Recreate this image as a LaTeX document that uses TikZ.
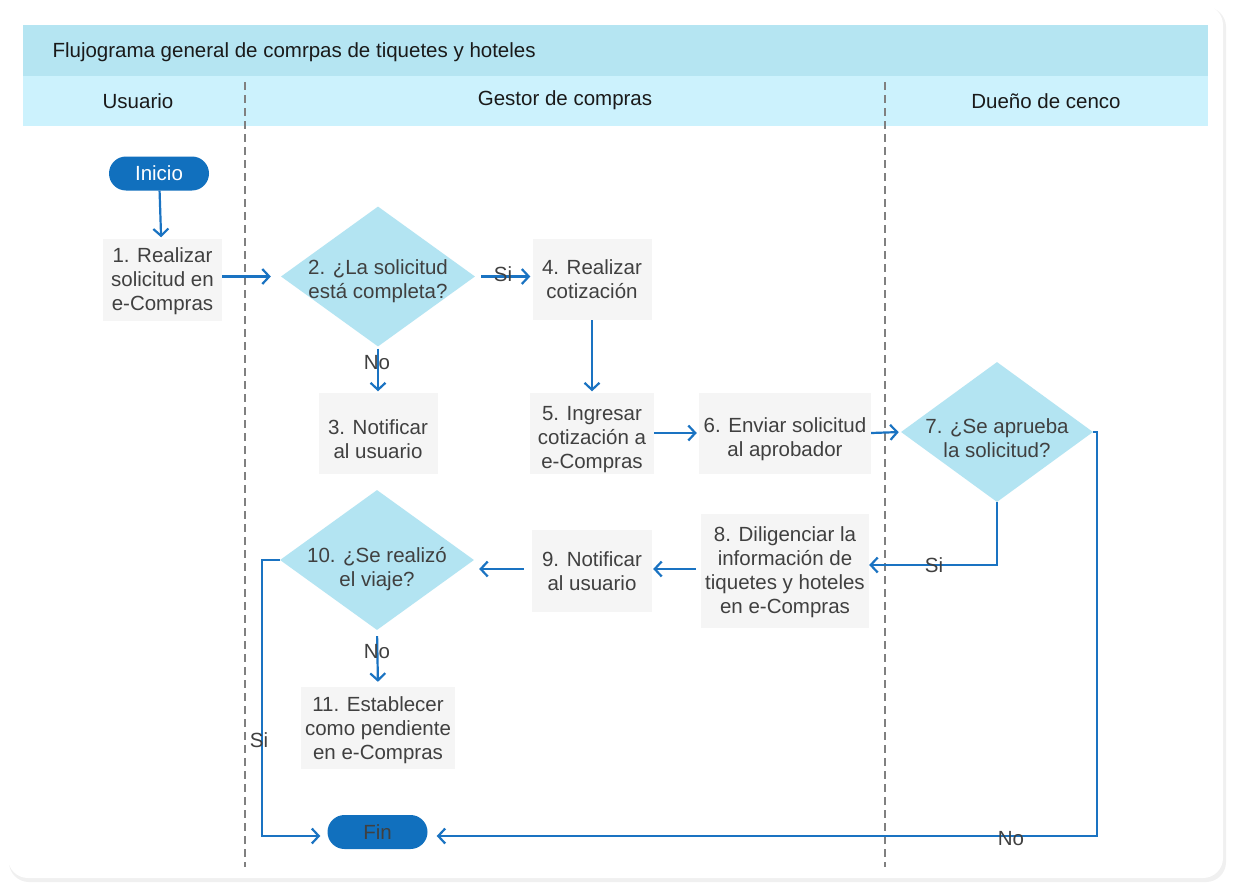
\documentclass[tikz,border=0pt]{standalone}
\usepackage{fontspec}
\setmainfont{Liberation Sans}
\usetikzlibrary{arrows.meta,shapes.geometric,calc}
\definecolor{titlebg}{HTML}{B5E5F2}
\definecolor{lanebg}{HTML}{CCF2FD}
\definecolor{diabg}{HTML}{B3E4F2}
\definecolor{pillc}{HTML}{1170BE}
\definecolor{arrowc}{HTML}{1A73C2}
\definecolor{boxbg}{HTML}{F5F5F5}
\definecolor{txtc}{HTML}{404040}
\definecolor{headc}{HTML}{1A1A1A}
\definecolor{dashc}{HTML}{808080}
\begin{document}
\begin{tikzpicture}[x=1pt,y=-1pt,
  every node/.style={font=\fontsize{20.5}{24}\selectfont, text=txtc},
  procbox/.style={rectangle, fill=boxbg, inner sep=0pt},
  dia/.style={diamond, fill=diabg, inner sep=0pt},
  inner/.style={align=center},
  pillnode/.style={rectangle, rounded corners=17pt, fill=pillc, inner sep=0pt,
    minimum width=100pt, minimum height=34pt},
  headtxt/.style={text=headc},
  lbl/.style={text=txtc, inner sep=0pt},
  flow/.style={draw=arrowc, line width=2.2pt,
    -{Straight Barb[length=7pt,width=15pt]}},
  lanesep/.style={draw=dashc, line width=2.4pt, dash pattern=on 8pt off 5pt}]
\useasboundingbox (0,0) rectangle (1234,891);
\fill[white] (0,0) rectangle (1234,891);
% card
\fill[black!6, rounded corners=20pt] (9,7) rectangle (1226,882);
\fill[white, rounded corners=20pt] (8,5) rectangle (1223,878);
% header
\fill[titlebg] (23,25) rectangle (1208,76);
\fill[lanebg] (23,76) rectangle (1208,126);
\node[headtxt, anchor=west] (title) at (49,52) {Flujograma general de comrpas de tiquetes y hoteles};
\node[headtxt] (lane1) at (138,101) {Usuario};
\node[headtxt] (lane2) at (565,100) {Gestor de compras};
\node[headtxt] (lane3) at (1046,101) {Dueño de cenco};
% lane separators
\draw[lanesep] (245,82) -- (245,867);
\draw[lanesep] (885,82) -- (885,867);
% nodes
\node[pillnode, text=white] (ini) at (159,173.5) {Inicio};
\node[procbox, minimum width=119pt, minimum height=82pt,
  label={[inner, yshift=-2pt]center:{1. Realizar\\solicitud en\\e-Compras}}] (b1) at (162.5,279.5) {};
\node[dia, minimum width=194pt, minimum height=140pt,
  label={[inner, yshift=-5pt]center:{2. ¿La solicitud\\está completa?}}] (d2) at (378,276.5) {};
\node[procbox, minimum width=119pt, minimum height=81pt,
  label={[inner]center:{4. Realizar\\cotización}}] (b4) at (592,279.5) {};
\node[procbox, minimum width=119pt, minimum height=81pt,
  label={[inner, yshift=-6pt]center:{3. Notificar\\al usuario}}] (b3) at (378,433) {};
\node[procbox, minimum width=124pt, minimum height=81pt,
  label={[inner, yshift=-7pt]center:{5. Ingresar\\cotización a\\e-Compras}}] (b5) at (592,433) {};
\node[procbox, minimum width=172pt, minimum height=81pt,
  label={[inner, yshift=-6pt]center:{6. Enviar solicitud\\al aprobador}}] (b6) at (785,433) {};
\node[dia, minimum width=192pt, minimum height=140pt,
  label={[inner, yshift=-6pt]center:{7. ¿Se aprueba\\la solicitud?}}] (d7) at (997,432) {};
\node[procbox, minimum width=168pt, minimum height=114pt,
  label={[inner, yshift=-1pt]center:{8. Diligenciar la\\información de\\tiquetes y hoteles\\en e-Compras}}] (b8) at (785,571) {};
\node[procbox, minimum width=120pt, minimum height=82pt,
  label={[inner]center:{9. Notificar\\al usuario}}] (b9) at (592,571) {};
\node[dia, minimum width=194pt, minimum height=140pt,
  label={[inner, yshift=-9pt]center:{10. ¿Se realizó\\el viaje?}}] (d10) at (377,560) {};
\node[procbox, minimum width=154pt, minimum height=82pt,
  label={[inner, yshift=-2pt]center:{11. Establecer\\como pendiente\\en e-Compras}}] (b11) at (378,728) {};
\node[pillnode] (fin) at (377.5,832) {Fin};
% helper coordinates
\coordinate (c7) at (1097,836);
\coordinate (c10) at (262,836);
% connectors
\draw[flow, shorten >=1pt] (ini) -- (b1);
\draw[flow, shorten >=10pt] (b1.east |- d2.west) -- (d2.west);
\draw[flow, shorten <=6pt, shorten >=2pt] (d2.east) -- (b4.west |- d2.east);
\draw[flow, shorten <=2pt, shorten >=1pt] (d2.south) -- (b3.north);
\draw[flow, shorten >=1pt] (b4.south) -- (b5.north);
\draw[flow, shorten >=2pt] (b5.east) -- (b6.west);
\draw[flow, shorten >=2pt] (b6.east) -- (d7.west);
\draw[flow] (d7.south) |- ([yshift=6pt]b8.east);
\draw[flow, shorten >=9pt] (d7.east) -| (c7) -- (c7 -| fin.east);
\draw[flow, shorten <=5pt, shorten >=1pt] ([yshift=2pt]b8.west) -- ([yshift=2pt]b9.east);
\draw[flow, shorten <=8pt, shorten >=5pt] ([yshift=2pt]b9.west) -- ([yshift=2pt]b9.west -| d10.east);
\draw[flow, shorten <=6pt, shorten >=5pt] (d10.south) -- (b11.north);
\draw[flow, shorten >=7pt] (d10.west) -| (c10) -- (c10 -| fin.west);
% connector labels
\node[lbl] (l1) at (503,274) {Si};
\node[lbl] (l2) at (377,363) {No};
\node[lbl] (l3) at (934,565) {Si};
\node[lbl] (l4) at (1011,839) {No};
\node[lbl] (l5) at (377,652) {No};
\node[lbl] (l6) at (259,740) {Si};
\end{tikzpicture}
\end{document}
